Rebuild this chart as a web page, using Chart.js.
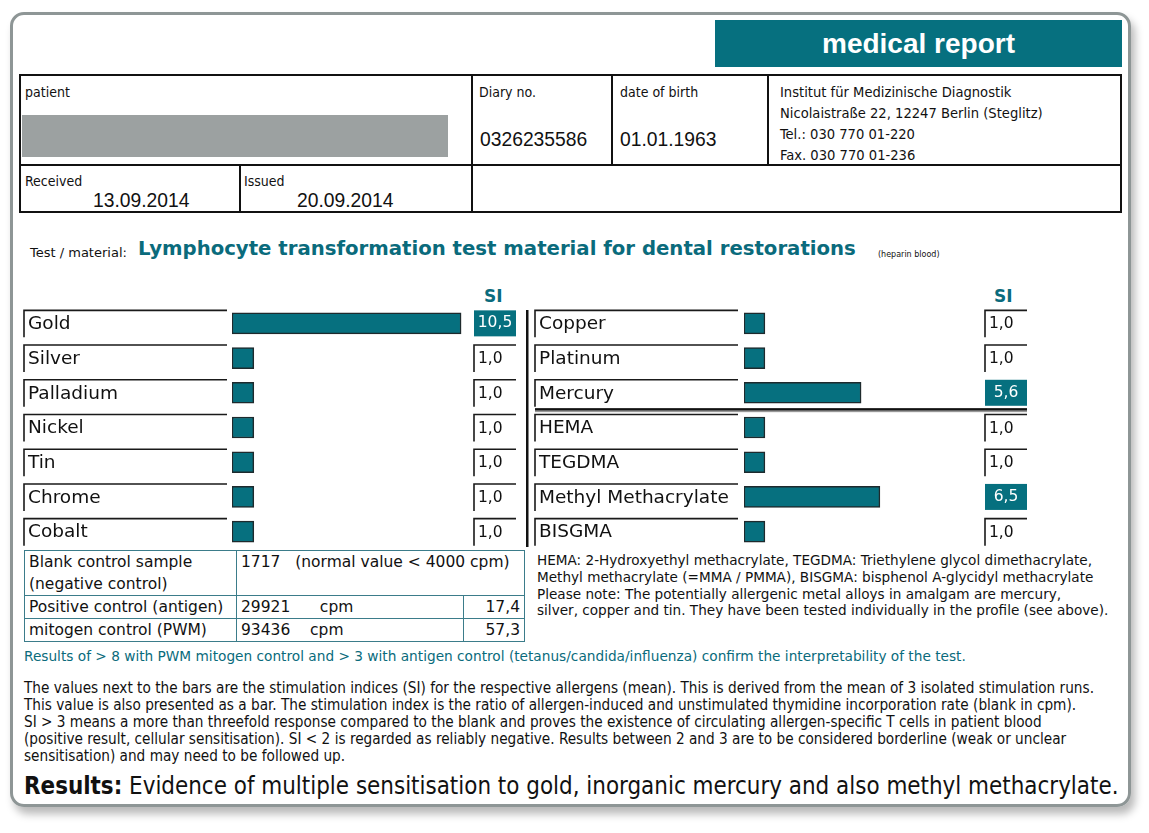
<!DOCTYPE html>
<html>
<head>
<meta charset="utf-8">
<script src="https://cdn.jsdelivr.net/npm/chart.js@4.4.1/dist/chart.umd.min.js"></script>
<style>
  body { margin:0; background:#fff; }
  #page { position:relative; width:1149px; height:833px; overflow:hidden; font-family:"DejaVu Sans", sans-serif; color:#111; }
  .abs { position:absolute; white-space:nowrap; }
  .frame { left:10px; top:12px; width:1115px; height:789px; border:3px solid #8e9696; border-radius:14px; box-shadow:4px 7px 9px rgba(0,0,0,0.28); }
  .hdr { left:715px; top:20px; width:407px; height:47px; background:#06707f; color:#fff; font:bold 28px "Liberation Sans", Arial, sans-serif; text-align:center; line-height:47px; }
  .ln { position:absolute; background:#111; }
  .nar { font-family:"Liberation Sans Narrow","DejaVu Sans Condensed",sans-serif; font-size:14px; }
  .ari { font-family:"Liberation Sans", Arial, sans-serif; font-size:19.3px; }
  .teal { color:#0a6b7c; }
  .chart { position:absolute; }
  table.ctl { position:absolute; left:24px; top:550px; width:501px; border-collapse:collapse; font-size:15.5px; }
  table.ctl td { border:1.5px solid #3b7c8a; padding:0 4px; line-height:22px; vertical-align:top; }
  .cond { font-family:"DejaVu Sans Condensed", sans-serif; }
</style>
</head>
<body>
<div id="page">
  <div class="abs frame"></div>
  <div class="abs hdr">medical report</div>

  <!-- header table -->
  <div class="abs" style="left:19px;top:74px;width:1099px;height:135px;border:2px solid #111;"></div>
  <div class="ln" style="left:19px;top:164px;width:1103px;height:2px;"></div>
  <div class="ln" style="left:471px;top:74px;width:2px;height:139px;"></div>
  <div class="ln" style="left:611px;top:74px;width:2px;height:91px;"></div>
  <div class="ln" style="left:767px;top:74px;width:2px;height:91px;"></div>
  <div class="ln" style="left:239px;top:165px;width:2px;height:48px;"></div>
  <div class="abs" style="left:22px;top:115px;width:426px;height:42px;background:#9ca1a1;"></div>

  <div class="abs nar" style="left:25px;top:84px;">patient</div>
  <div class="abs nar" style="left:479px;top:84px;">Diary no.</div>
  <div class="abs ari" style="left:480px;top:129px;">0326235586</div>
  <div class="abs nar" style="left:620px;top:84px;">date of birth</div>
  <div class="abs ari" style="left:620px;top:129px;">01.01.1963</div>
  <div class="abs nar" style="left:780px;top:81px;line-height:21px;font-size:14.6px;">Institut für Medizinische Diagnostik<br>Nicolaistraße 22, 12247 Berlin (Steglitz)<br>Tel.: 030 770 01-220<br>Fax. 030 770 01-236</div>
  <div class="abs nar" style="left:25px;top:173px;">Received</div>
  <div class="abs ari" style="left:93px;top:190px;">13.09.2014</div>
  <div class="abs nar" style="left:244px;top:173px;">Issued</div>
  <div class="abs ari" style="left:297px;top:190px;">20.09.2014</div>

  <!-- title -->
  <div class="abs" style="left:30px;top:245px;font-size:13px;">Test / material:</div>
  <div class="abs teal" style="left:138px;top:237px;font-size:19.7px;font-weight:bold;">Lymphocyte transformation test material for dental restorations</div>
  <div class="abs" style="left:878px;top:250px;font-size:8px;">(heparin blood)</div>

  <div class="abs teal" style="left:484px;top:286px;font-size:17px;font-weight:bold;">SI</div>
  <div class="abs teal" style="left:994px;top:286px;font-size:17px;font-weight:bold;">SI</div>

  <div class="chart" style="left:20px;top:306px;width:510px;height:243px;"><canvas id="left"></canvas></div>
  <div class="chart" style="left:530px;top:306px;width:505px;height:243px;"><canvas id="right"></canvas></div>

  <!-- controls -->
  <table class="ctl">
    <tr><td style="width:203px;">Blank control sample<br>(negative control)</td><td colspan="2">1717&nbsp;&nbsp;&nbsp;(normal value &lt; 4000 cpm)</td></tr>
    <tr><td>Positive control (antigen)</td><td style="width:218px;">29921&nbsp;&nbsp;&nbsp;&nbsp;&nbsp;&nbsp;cpm</td><td style="text-align:right;">17,4</td></tr>
    <tr><td>mitogen control (PWM)</td><td>93436&nbsp;&nbsp;&nbsp;&nbsp;cpm</td><td style="text-align:right;">57,3</td></tr>
  </table>

  <div class="abs" style="left:537px;top:552px;font-size:13.6px;line-height:16.8px;">HEMA: 2-Hydroxyethyl methacrylate, TEGDMA: Triethylene glycol dimethacrylate,<br>Methyl methacrylate (=MMA / PMMA), BISGMA: bisphenol A-glycidyl methacrylate<br>Please note: The potentially allergenic metal alloys in amalgam are mercury,<br>silver, copper and tin. They have been tested individually in the profile (see above).</div>

  <div class="abs teal" style="left:24px;top:648px;font-size:13.7px;">Results of &gt; 8 with PWM mitogen control and &gt; 3 with antigen control (tetanus/candida/influenza) confirm the interpretability of the test.</div>

  <div class="abs cond" style="left:24px;top:680px;font-size:15.2px;line-height:17px;">The values next to the bars are the stimulation indices (SI) for the respective allergens (mean). This is derived from the mean of 3 isolated stimulation runs.<br>This value is also presented as a bar. The stimulation index is the ratio of allergen-induced and unstimulated thymidine incorporation rate (blank in cpm).<br>SI &gt; 3 means a more than threefold response compared to the blank and proves the existence of circulating allergen-specific T cells in patient blood<br>(positive result, cellular sensitisation). SI &lt; 2 is regarded as reliably negative. Results between 2 and 3 are to be considered borderline (weak or unclear<br>sensitisation) and may need to be followed up.</div>

  <div class="abs cond" style="left:24px;top:772px;font-size:23.9px;"><b>Results:</b> Evidence of multiple sensitisation to gold, inorganic mercury and also methyl methacrylate.</div>
</div>

<script>
var metalLabels = ["Gold", "Silver", "Palladium", "Nickel", "Tin", "Chrome", "Cobalt"];
var metalSI = [10.5, 1.0, 1.0, 1.0, 1.0, 1.0, 1.0];
var otherLabels = ["Copper", "Platinum", "Mercury", "HEMA", "TEGDMA", "Methyl Methacrylate", "BISGMA"];
var otherSI = [1.0, 1.0, 5.6, 1.0, 1.0, 6.5, 1.0];
var siLimit = 3;

var teal = '#06707f';

// label boxes, SI boxes and separators around the bars
var rowBoxes = {
    id: 'rowBoxes',
    afterDatasetsDraw: function(chart, args, o) {
        var ctx = chart.ctx, y = chart.scales.y;
        var vals = chart.data.datasets[0].data;
        ctx.save();
        ctx.textBaseline = 'middle';
        chart.data.labels.forEach(function(lab, i) {
            var cy = y.getPixelForValue(i);
            ctx.strokeStyle = '#1a1a1a';
            ctx.lineWidth = 1.6;
            ctx.beginPath();
            ctx.moveTo(o.labelX, cy + 14); ctx.lineTo(o.labelX, cy - 13); ctx.lineTo(o.labelX + o.labelW, cy - 13);
            ctx.stroke();
            ctx.fillStyle = '#111';
            ctx.font = '18.5px "DejaVu Sans"';
            ctx.textAlign = 'left';
            ctx.fillText(lab, o.labelX + 4, cy + 1);

            var v = vals[i], s = v.toFixed(1).replace('.', ',');
            if (v > siLimit) {
                ctx.fillStyle = teal;
                ctx.fillRect(o.siX, cy - 13, o.siW, 26);
                ctx.fillStyle = '#fff';
                ctx.font = '15.5px "DejaVu Sans"';
                ctx.textAlign = 'center';
                ctx.fillText(s, o.siX + o.siW / 2, cy);
            } else {
                ctx.beginPath();
                ctx.moveTo(o.siX, cy + 14); ctx.lineTo(o.siX, cy - 13); ctx.lineTo(o.siX + o.siW, cy - 13);
                ctx.stroke();
                ctx.fillStyle = '#111';
                ctx.font = '15.5px "DejaVu Sans"';
                ctx.textAlign = 'left';
                ctx.fillText(s, o.siX + 4, cy + 1);
            }
        });
        if (o.sepX) {
            ctx.fillStyle = '#111';
            ctx.fillRect(o.sepX, 4, 2.5, chart.height - 6);
        }
        if (o.splitAfter != null) {
            var yy = (y.getPixelForValue(o.splitAfter) + y.getPixelForValue(o.splitAfter + 1)) / 2;
            ctx.fillStyle = '#111';
            ctx.fillRect(o.labelX, yy - 2, o.siX + o.siW - o.labelX, 2.5);
            ctx.fillStyle = '#888';
            ctx.fillRect(o.labelX, yy + 1, o.siX + o.siW - o.labelX, 1);
        }
        ctx.restore();
    }
};

function makeChart(id, labels, data, pad, boxes) {
    return new Chart(document.getElementById(id), {
        type: 'bar',
        data: {labels: labels, datasets: [{
            data: data,
            backgroundColor: teal,
            borderColor: '#1e2a2d',
            borderWidth: 1.5,
            borderSkipped: false,
            barThickness: 21
        }]},
        options: {
            indexAxis: 'y',
            responsive: true, maintainAspectRatio: false, animation: false,
            layout: {padding: pad},
            plugins: {legend: {display: false}, tooltip: {enabled: false}, rowBoxes: boxes},
            scales: {
                x: {display: false, min: 0, max: 11},
                y: {display: false}
            }
        },
        plugins: [rowBoxes]
    });
}

makeChart('left', metalLabels, metalSI, {left: 212, right: 58, top: 0, bottom: 0},
    {labelX: 4, labelW: 203, siX: 454, siW: 42, sepX: 506});
makeChart('right', otherLabels, otherSI, {left: 214, right: 61, top: 0, bottom: 0},
    {labelX: 5, labelW: 203, siX: 455, siW: 42, splitAfter: 2});
</script>
</body>
</html>
